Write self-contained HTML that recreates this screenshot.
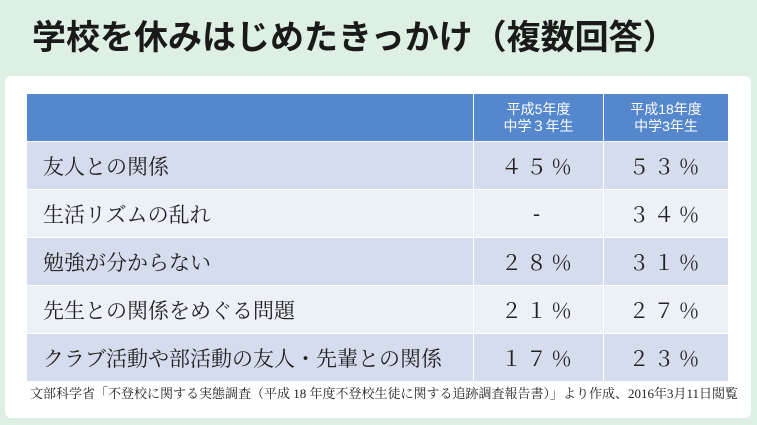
<!DOCTYPE html>
<html><head><meta charset="utf-8"><style>
body{margin:0;width:757px;height:425px;background:#deefe3;position:relative;overflow:hidden;font-family:"Liberation Sans","Noto Sans CJK JP",sans-serif}
#title{position:absolute;left:32px;top:16px;font-size:34px;line-height:44px;font-weight:bold;color:#1a1a1a;white-space:nowrap}
#panel{position:absolute;left:5px;top:76px;width:746px;height:342px;background:#fff;border-radius:6px}
table{position:absolute;left:26px;top:93px;border-collapse:collapse;width:703px}
td,th{padding:0;border:1px solid #fff}
th{background:#5587cd;color:#fff;font-size:14px;font-weight:normal;line-height:17px;height:47px}
td{height:47px;font-family:"Liberation Serif","Noto Serif CJK SC",serif;font-size:21px;color:#222}
tr.a td{background:#d5dcee}tr.b td{background:#ecf0f7}
td.l{padding-left:16px}td.v{text-align:center;letter-spacing:4px}
#note{position:absolute;left:30px;top:383px;font-family:"Liberation Serif","Noto Serif CJK SC",serif;font-size:13px;color:#222;white-space:nowrap}
</style></head><body>
<div id="title">学校を休みはじめたきっかけ（複数回答）</div>
<div id="panel"></div>
<table>
<tr><th style="width:446px"></th><th style="width:129px">平成5年度<br>中学３年生</th><th>平成18年度<br>中学3年生</th></tr>
<tr class="a"><td class="l">友人との関係</td><td class="v">４５％</td><td class="v">５３％</td></tr>
<tr class="b"><td class="l">生活リズムの乱れ</td><td class="v">-</td><td class="v">３４％</td></tr>
<tr class="a"><td class="l">勉強が分からない</td><td class="v">２８％</td><td class="v">３１％</td></tr>
<tr class="b"><td class="l">先生との関係をめぐる問題</td><td class="v">２１％</td><td class="v">２７％</td></tr>
<tr class="a"><td class="l">クラブ活動や部活動の友人・先輩との関係</td><td class="v">１７％</td><td class="v">２３％</td></tr>
</table>
<div id="note">文部科学省「不登校に関する実態調査（平成 18 年度不登校生徒に関する追跡調査報告書）」より作成、2016年3月11日閲覧</div>
</body></html>
